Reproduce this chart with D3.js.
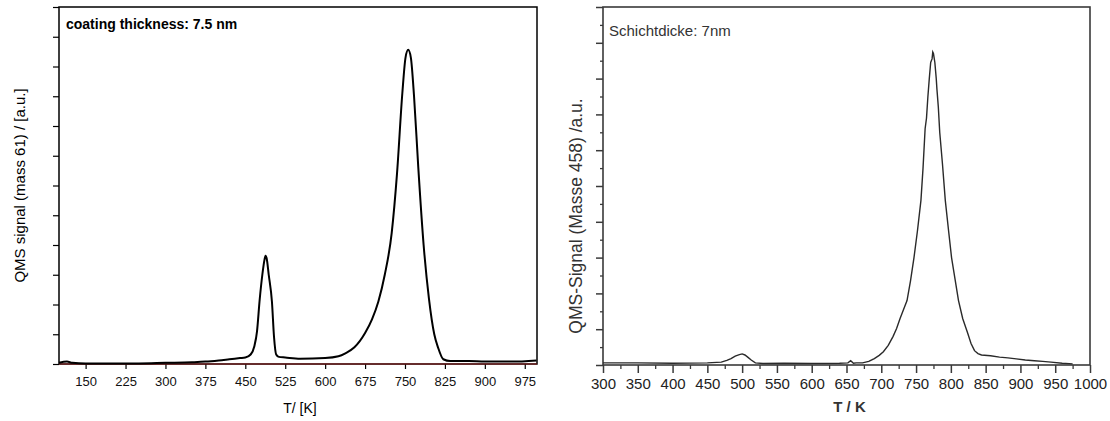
<!DOCTYPE html>
<html>
<head>
<meta charset="utf-8">
<script src="https://cdn.jsdelivr.net/npm/d3@7"></script>
<style>
  body { margin: 0; background: #fff; }
  svg { display: block; }
</style>
</head>
<body>
<svg id="chart" width="1110" height="421"></svg>
<script>
// left panel: coating thickness 7.5 nm, mass 61
const leftT = [100,115,125,150,200,250,300,350,375,400,420,440,450,460,467,472,477,482,486,488,490,494,500,504,508,513,525,553,600,625,638,655,675,688,700,712,725,735,745,751,756,761,767,775,785,795,805,812,822,835,870,900,950,997];
const leftSignal = [0.02,0.04,0.02,0.01,0.01,0.01,0.02,0.03,0.04,0.06,0.08,0.1,0.11,0.16,0.3,0.55,1.08,1.5,1.75,1.82,1.78,1.5,1.05,0.45,0.16,0.12,0.11,0.09,0.1,0.13,0.18,0.28,0.52,0.75,1.05,1.5,2.2,3.2,4.55,5.15,5.28,5.15,4.5,3.3,2.0,1.1,0.5,0.28,0.08,0.05,0.05,0.04,0.04,0.06];
const leftXTicks = [150,225,300,375,450,525,600,675,750,825,900,975];
const leftYTicks = [0,0.5,1,1.5,2,2.5,3,3.5,4,4.5,5,5.5,6];

// right panel: Schichtdicke 7 nm, Masse 458
const rightT = [300,350,400,450,470,478,484,490,496,500,504,508,513,519,530,560,600,640,652,656,660,664,673,682,690,697,703,710,717,722,727,732,737,742,747,752,757,760,763,765,767,769,771,773,774,775,777,779,780,782,784,788,792,797,801,806,811,817,824,829,834,839,844,857,870,882,894,907,920,932,944,960,975];
const rightSignal = [0.06,0.06,0.05,0.06,0.08,0.13,0.18,0.25,0.29,0.31,0.28,0.22,0.14,0.06,0.04,0.05,0.04,0.05,0.06,0.12,0.05,0.06,0.06,0.1,0.18,0.27,0.37,0.55,0.8,1.02,1.3,1.55,1.8,2.35,3.0,3.75,4.6,5.5,6.6,6.9,7.5,8.0,8.45,8.55,8.74,8.7,8.45,8.0,7.7,7.2,6.5,5.6,4.6,3.7,3.0,2.4,1.8,1.3,0.9,0.6,0.4,0.32,0.28,0.26,0.22,0.2,0.17,0.14,0.12,0.1,0.08,0.05,0.03];
const rightXMajor = [300,350,400,450,500,550,600,650,700,750,800,850,900,950,1000];
const rightXMinor = [325,375,425,475,525,575,625,675,725,775,825,875,925,975];
const rightYMajor = [0,1,2,3,4,5,6,7,8,9,10];
const rightYMinor = [0.5,1.5,2.5,3.5,4.5,5.5,6.5,7.5,8.5,9.5];

const svg = d3.select("#chart");
const font = "'Liberation Sans', Arial, sans-serif";

// ---------- left panel ----------
const L = { left: 59, right: 537, top: 7, bottom: 364 };
const xL = d3.scaleLinear().domain([100, 998]).range([L.left, L.right]);
const yL = d3.scaleLinear().domain([0, 6]).range([L.bottom, L.top]);
const gL = svg.append("g");

gL.append("g")
    .attr("transform", `translate(0,${L.bottom})`)
    .call(d3.axisBottom(xL).tickValues(leftXTicks).tickSize(5).tickSizeOuter(0))
    .call(g => g.select(".domain").remove())
    .call(g => g.selectAll("line").attr("stroke", "#000").attr("stroke-width", 1.2))
    .selectAll("text")
    .attr("dy", "1.05em")
    .style("font-family", font)
    .style("font-size", "13px")
    .style("fill", "#111");

gL.append("g")
    .attr("transform", `translate(${L.left},0)`)
    .call(d3.axisLeft(yL).tickValues(leftYTicks).tickSize(6).tickFormat(""))
    .call(g => g.select(".domain").remove())
    .call(g => g.selectAll("line").attr("stroke", "#000").attr("stroke-width", 1.2));

gL.append("rect")
    .attr("x", L.left).attr("y", L.top)
    .attr("width", L.right - L.left).attr("height", L.bottom - L.top)
    .attr("fill", "none").attr("stroke", "#000").attr("stroke-width", 1.5);

// red zero line
gL.append("line")
    .attr("x1", xL(100)).attr("x2", xL(998))
    .attr("y1", yL(0)).attr("y2", yL(0))
    .attr("stroke", "#8b1a1a").attr("stroke-width", 1.2);

gL.append("path")
    .datum(leftT.map((t, i) => [t, leftSignal[i]]))
    .attr("fill", "none")
    .attr("stroke", "#000")
    .attr("stroke-width", 2)
    .attr("d", d3.line().x(d => xL(d[0])).y(d => yL(d[1])).curve(d3.curveMonotoneX));

gL.append("text")
    .attr("x", 66).attr("y", 29)
    .style("font-family", font).style("font-size", "14px").style("font-weight", "bold")
    .text("coating thickness: 7.5 nm");

gL.append("text")
    .attr("x", (L.left + L.right) / 2 + 2).attr("y", 413)
    .attr("text-anchor", "middle")
    .style("font-family", font).style("font-size", "14px")
    .text("T/ [K]");

gL.append("text")
    .attr("transform", `translate(25,${(L.top + L.bottom) / 2}) rotate(-90)`)
    .attr("text-anchor", "middle")
    .style("font-family", font).style("font-size", "15px")
    .text("QMS signal (mass 61) / [a.u.]");

// ---------- right panel ----------
const R = { left: 603, right: 1090, top: 7, bottom: 365 };
const xR = d3.scaleLinear().domain([300, 1000]).range([R.left, R.right]);
const yR = d3.scaleLinear().domain([0, 10]).range([R.bottom, R.top]);
const gR = svg.append("g");
const axisGrey = "#3a3a3a";

gR.append("g")
    .attr("transform", `translate(0,${R.bottom})`)
    .call(d3.axisBottom(xR).tickValues(rightXMajor).tickSize(8).tickSizeOuter(0).tickFormat(d3.format("d")))
    .call(g => g.select(".domain").remove())
    .call(g => g.selectAll("line").attr("stroke", axisGrey).attr("stroke-width", 1.5))
    .selectAll("text")
    .attr("dy", "0.85em")
    .style("font-family", font)
    .style("font-size", "15px")
    .style("fill", "#222");

gR.append("g")
    .attr("transform", `translate(0,${R.bottom})`)
    .call(d3.axisBottom(xR).tickValues(rightXMinor).tickSize(4).tickFormat(""))
    .call(g => g.select(".domain").remove())
    .call(g => g.selectAll("line").attr("stroke", axisGrey).attr("stroke-width", 1.3));

gR.append("g")
    .attr("transform", `translate(${R.left},0)`)
    .call(d3.axisLeft(yR).tickValues(rightYMajor).tickSize(7).tickFormat(""))
    .call(g => g.select(".domain").remove())
    .call(g => g.selectAll("line").attr("stroke", axisGrey).attr("stroke-width", 1.5));

gR.append("g")
    .attr("transform", `translate(${R.left},0)`)
    .call(d3.axisLeft(yR).tickValues(rightYMinor).tickSize(3).tickFormat(""))
    .call(g => g.select(".domain").remove())
    .call(g => g.selectAll("line").attr("stroke", axisGrey).attr("stroke-width", 1.3));

gR.append("rect")
    .attr("x", R.left).attr("y", R.top)
    .attr("width", R.right - R.left).attr("height", R.bottom - R.top)
    .attr("fill", "none").attr("stroke", axisGrey).attr("stroke-width", 1.6);

gR.append("path")
    .datum(rightT.map((t, i) => [t, rightSignal[i]]))
    .attr("fill", "none")
    .attr("stroke", "#2a2a2a")
    .attr("stroke-width", 1.4)
    .attr("d", d3.line().x(d => xR(d[0])).y(d => yR(d[1])));

gR.append("text")
    .attr("x", 609).attr("y", 36)
    .style("font-family", font).style("font-size", "15px").style("fill", "#333")
    .text("Schichtdicke: 7nm");

gR.append("text")
    .attr("x", (R.left + R.right) / 2 + 3).attr("y", 412)
    .attr("text-anchor", "middle")
    .style("font-family", font).style("font-size", "15px").style("font-weight", "bold").style("fill", "#333")
    .text("T / K");

gR.append("text")
    .attr("transform", `translate(582,${(R.top + R.bottom) / 2 + 30}) rotate(-90)`)
    .attr("text-anchor", "middle")
    .style("font-family", font).style("font-size", "17.5px").style("fill", "#333")
    .text("QMS-Signal (Masse 458) /a.u.");
</script>
</body>
</html>
